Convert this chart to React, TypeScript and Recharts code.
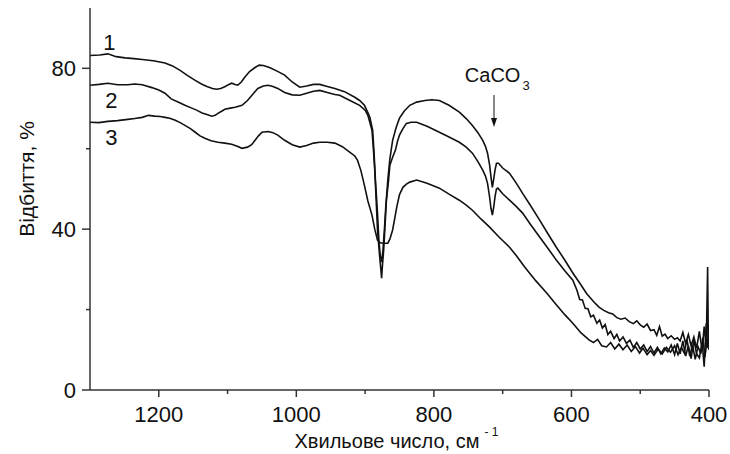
import React from 'react';
import { LineChart, Line, XAxis, YAxis, ReferenceDot } from 'recharts';

// IR reflectance spectra, wavenumber (cm-1) vs reflectance (%)
const sample1 = [
  [1300, 83.2], [1286, 83.3], [1274, 83.6], [1262, 82.9], [1249, 82.6], [1236, 82.4], [1224, 82.2],
  [1208, 81.9], [1191, 81.3], [1180, 80.6], [1169, 79.5], [1158, 78.2], [1147, 77.0], [1138, 76.1],
  [1130, 75.5], [1122, 75.0], [1116, 74.8], [1110, 75.0], [1104, 75.4], [1098, 76.0], [1094, 76.3],
  [1089, 76.0], [1085, 75.8], [1080, 76.6], [1075, 77.8], [1068, 79.2], [1060, 80.2], [1054, 80.8],
  [1048, 80.7], [1039, 80.2], [1028, 79.3], [1017, 78.3], [1006, 76.6], [995, 75.3], [985, 75.6],
  [975, 76.0], [966, 76.0], [955, 75.5], [944, 75.0], [930, 74.2], [915, 72.8], [908, 72.0],
  [901, 70.8], [896, 69.0], [893, 67.8], [889, 64.6], [887, 59.0], [885, 52.2], [882, 44.0],
  [880, 37.3], [878, 33.5], [876, 31.8], [874, 34.8], [872, 39.8], [870, 45.5], [867, 52.2],
  [864, 57.5], [860, 62.1], [855, 65.2], [850, 67.6], [843, 69.4], [835, 70.8], [825, 71.6],
  [813, 72.0], [803, 72.2], [792, 72.0], [778, 70.8], [763, 69.1], [753, 67.5], [744, 65.8],
  [736, 64.0], [729, 62.1], [725, 60.6], [722, 58.9], [719, 56.0], [717, 53.0], [715, 50.4],
  [713, 52.5], [711, 54.8], [709, 56.4], [706, 56.4], [700, 55.2], [690, 53.9], [680, 51.4],
  [671, 48.9], [660, 46.0], [646, 42.2], [634, 38.8], [622, 35.5], [610, 32.4], [598, 29.1],
  [588, 26.6], [578, 24.0], [568, 22.0], [560, 20.6], [553, 19.8], [546, 19.2], [540, 18.9],
  [534, 18.0], [528, 17.6], [522, 17.9], [516, 17.0], [510, 16.5], [505, 17.2], [500, 16.2],
  [495, 15.6], [490, 16.4], [485, 14.8], [480, 15.0], [476, 13.6], [472, 15.8], [468, 13.4],
  [464, 13.9], [460, 12.8], [455, 13.5], [450, 12.6], [446, 13.0], [442, 12.2], [438, 14.3],
  [434, 11.6], [430, 13.8], [426, 11.0], [422, 13.2], [418, 10.4], [414, 14.6], [410, 9.8],
  [407, 15.8], [404, 11.0], [402, 30.6], [401, 12.0], [400, 11.5],
];

const sample2 = [
  [1300, 75.8], [1287, 76.0], [1274, 76.3], [1260, 75.9], [1245, 75.9], [1235, 76.1], [1224, 75.9],
  [1210, 75.2], [1200, 74.6], [1191, 73.8], [1182, 72.4], [1172, 71.6], [1162, 70.8], [1152, 70.1],
  [1145, 69.6], [1137, 68.9], [1130, 68.5], [1123, 68.1], [1118, 68.3], [1114, 68.8], [1108, 69.4],
  [1104, 69.8], [1096, 70.1], [1089, 70.3], [1079, 70.8], [1071, 72.0], [1063, 73.6], [1056, 75.0],
  [1048, 75.6], [1041, 75.8], [1034, 75.5], [1027, 75.0], [1017, 74.0], [1006, 73.4], [995, 73.3],
  [985, 73.8], [975, 74.3], [966, 74.5], [955, 74.0], [944, 73.5], [937, 73.3], [922, 72.0],
  [908, 70.8], [900, 69.6], [896, 68.3], [890, 64.6], [888, 60.0], [886, 54.7], [884, 47.5],
  [882, 39.8], [879, 33.5], [877, 29.8], [876, 27.8], [875, 30.5], [873, 34.8], [871, 41.0],
  [869, 47.2], [866, 52.0], [864, 55.9], [860, 57.9], [856, 59.6], [853, 61.8], [850, 63.4],
  [845, 65.0], [840, 66.3], [833, 66.6], [825, 66.6], [810, 65.6], [792, 64.1], [778, 62.9],
  [763, 61.6], [753, 60.4], [744, 58.9], [736, 56.8], [729, 54.7], [725, 53.2], [722, 51.4],
  [719, 48.0], [717, 45.2], [715, 43.5], [713, 45.5], [711, 48.2], [709, 50.0], [707, 50.2],
  [700, 48.8], [690, 47.2], [680, 45.6], [671, 44.0], [660, 41.3], [646, 38.0], [634, 35.2],
  [622, 32.3], [610, 29.7], [598, 27.3], [592, 24.8], [588, 22.5], [584, 22.4], [580, 20.3],
  [576, 20.2], [572, 18.2], [568, 18.6], [563, 16.6], [559, 17.4], [555, 15.4], [551, 16.3],
  [547, 13.8], [543, 14.6], [538, 12.8], [534, 13.8], [530, 12.2], [525, 13.2], [520, 11.6],
  [515, 12.4], [510, 10.6], [505, 11.8], [500, 10.2], [495, 11.2], [490, 9.6], [485, 10.8],
  [480, 9.2], [475, 10.6], [470, 9.0], [465, 10.4], [460, 9.5], [455, 11.2], [450, 8.8],
  [446, 11.6], [442, 9.0], [438, 12.2], [434, 8.4], [430, 11.0], [426, 7.8], [422, 12.4],
  [418, 9.0], [414, 8.0], [410, 11.8], [407, 5.8], [404, 16.5], [402, 10.5], [400, 12.0],
];

const sample3 = [
  [1300, 66.6], [1287, 66.5], [1274, 66.8], [1260, 67.0], [1245, 67.3], [1235, 67.5], [1224, 67.8],
  [1215, 68.3], [1206, 68.1], [1198, 68.0], [1191, 67.8], [1184, 67.6], [1176, 67.1], [1169, 66.5],
  [1162, 65.8], [1154, 65.0], [1147, 64.1], [1140, 63.2], [1133, 62.6], [1124, 62.0], [1114, 61.6],
  [1104, 61.4], [1094, 61.1], [1086, 60.6], [1079, 60.1], [1071, 60.4], [1065, 61.0], [1060, 62.1],
  [1055, 63.2], [1050, 64.1], [1041, 64.3], [1034, 64.0], [1027, 63.4], [1017, 62.1], [1006, 61.0],
  [995, 60.4], [985, 60.8], [975, 61.4], [966, 61.6], [955, 61.6], [944, 61.4], [933, 60.5],
  [922, 59.1], [915, 58.2], [911, 57.1], [906, 54.5], [901, 50.9], [896, 47.0], [890, 43.5],
  [886, 40.0], [882, 37.3], [878, 36.6], [874, 36.5], [870, 36.5], [867, 36.5], [864, 37.5],
  [860, 39.8], [857, 42.6], [854, 45.5], [850, 48.6], [845, 50.4], [840, 51.2], [835, 51.7],
  [825, 52.2], [810, 51.4], [792, 50.2], [778, 48.7], [763, 47.2], [753, 46.0], [744, 44.7],
  [732, 42.6], [719, 40.5], [705, 38.0], [690, 35.5], [680, 33.4], [668, 30.6], [652, 27.2],
  [636, 24.1], [622, 21.2], [610, 18.8], [598, 16.6], [586, 14.2], [574, 12.4], [568, 11.8],
  [562, 12.6], [556, 11.0], [549, 10.7], [543, 11.8], [537, 10.2], [531, 11.4], [525, 10.0],
  [519, 11.2], [513, 9.6], [507, 10.8], [501, 9.2], [496, 10.4], [490, 8.8], [485, 9.8],
  [480, 8.6], [474, 10.2], [468, 9.0], [462, 10.6], [456, 9.4], [450, 11.0], [445, 8.8],
  [440, 10.6], [436, 9.2], [432, 12.6], [428, 8.4], [424, 11.2], [420, 7.6], [416, 10.8],
  [412, 9.0], [409, 13.0], [406, 8.2], [403, 12.0], [400, 10.0],
];

const xTicks = [1200, 1100, 1000, 900, 800, 700, 600, 500, 400];
const yTicks = [0, 20, 40, 60, 80];
const curveLabels = [
  { text: '1', wn: 1272, r: 84.6 },
  { text: '2', wn: 1269, r: 70.1 },
  { text: '3', wn: 1269, r: 60.9 },
];

const FONT = '"Liberation Sans", Arial, sans-serif';
const INK = '#111';
const AXIS = '#333';

const toPoints = (rows: number[][]) => rows.map(([wn, r]) => ({ wn, r }));

const XTick = ({ x, y, payload }: any) => {
  const major = payload.value % 200 === 0;
  return (
    <g>
      <line x1={x} y1={y} x2={x} y2={y + (major ? 7 : 4)} stroke={AXIS} strokeWidth={1.5} />
      {major && (
        <text x={x} y={y + 32} textAnchor="middle" fontSize={22} fill={INK} fontFamily={FONT}>
          {payload.value}
        </text>
      )}
    </g>
  );
};

const YTick = ({ x, y, payload }: any) => {
  const major = payload.value % 40 === 0;
  return (
    <g>
      <line x1={x - (major ? 8 : 4)} y1={y} x2={x} y2={y} stroke={AXIS} strokeWidth={1.5} />
      {major && (
        <text x={x - 14} y={y + 8} textAnchor="end" fontSize={22} fill={INK} fontFamily={FONT}>
          {payload.value}
        </text>
      )}
    </g>
  );
};

const XTitle = (props: any) => {
  const { x, y, width } = props.viewBox;
  return (
    <text x={x + width / 2 - 3} y={y + 58} textAnchor="middle" fontSize={20} fill={INK} fontFamily={FONT}>
      <tspan>Хвильове число, см</tspan>
      <tspan dx={5} dy={-12} fontSize={12}>- 1</tspan>
    </text>
  );
};

const YTitle = (props: any) => {
  const { x, y, height } = props.viewBox;
  const cx = x + 34;
  const cy = y + height / 2 - 20;
  return (
    <text x={cx} y={cy} transform={`rotate(-90, ${cx}, ${cy})`} textAnchor="middle" fontSize={21} fill={INK} fontFamily={FONT}>
      Відбиття, %
    </text>
  );
};

export default function App() {
  return (
    <div style={{ position: 'absolute', left: 0, top: 0, width: 730, height: 454, background: '#fff' }}>
      <LineChart width={730} height={454} margin={{ top: 8, right: 21, bottom: 0, left: 0 }}>
        <XAxis
          dataKey="wn"
          type="number"
          domain={[400, 1300]}
          reversed
          ticks={xTicks}
          interval={0}
          tickSize={0}
          tickMargin={0}
          tick={<XTick />}
          axisLine={{ stroke: AXIS, strokeWidth: 1.5 }}
          height={64}
          allowDataOverflow
          label={XTitle}
        />
        <YAxis
          dataKey="r"
          type="number"
          domain={[0, 95]}
          ticks={yTicks}
          interval={0}
          tickSize={0}
          tickMargin={0}
          tick={<YTick />}
          axisLine={{ stroke: AXIS, strokeWidth: 1.5 }}
          width={90}
          allowDataOverflow
          label={YTitle}
        />
        <Line data={toPoints(sample1)} dataKey="r" type="linear" stroke={INK} strokeWidth={1.6} dot={false} isAnimationActive={false} />
        <Line data={toPoints(sample2)} dataKey="r" type="linear" stroke={INK} strokeWidth={1.6} dot={false} isAnimationActive={false} />
        <Line data={toPoints(sample3)} dataKey="r" type="linear" stroke={INK} strokeWidth={1.6} dot={false} isAnimationActive={false} />
        {curveLabels.map((c) => (
          <ReferenceDot
            key={c.text}
            x={c.wn}
            y={c.r}
            r={0}
            shape={(p: any) => (
              <text x={p.cx} y={p.cy} textAnchor="middle" fontSize={22} fill={INK} fontFamily={FONT}>
                {c.text}
              </text>
            )}
          />
        ))}
        <ReferenceDot
          x={755}
          y={76.6}
          r={0}
          shape={(p: any) => (
            <text x={p.cx} y={p.cy} fontSize={20} fill={INK} fontFamily={FONT}>
              <tspan>CaCO</tspan>
              <tspan dx={2} dy={8} fontSize={13}>3</tspan>
            </text>
          )}
        />
        <ReferenceDot
          x={712.6}
          y={65.4}
          r={0}
          shape={(p: any) => (
            <g>
              <line x1={p.cx} y1={p.cy - 32} x2={p.cx} y2={p.cy - 7} stroke={INK} strokeWidth={1} />
              <polygon points={`${p.cx - 3},${p.cy - 9} ${p.cx + 3},${p.cy - 9} ${p.cx},${p.cy}`} fill={INK} />
            </g>
          )}
        />
      </LineChart>
    </div>
  );
}
